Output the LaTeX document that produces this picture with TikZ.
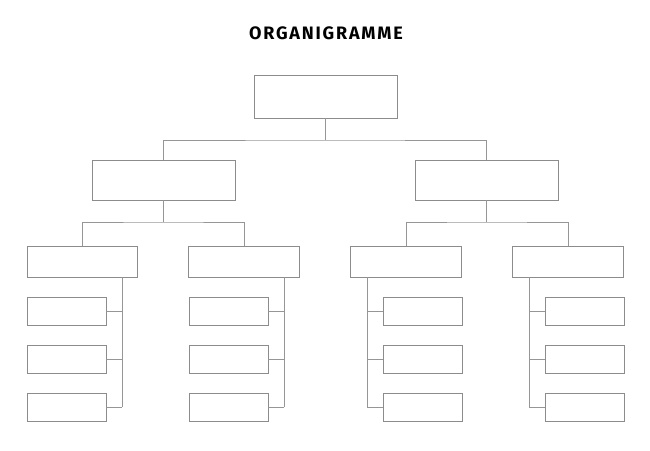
\documentclass[tikz,border=0pt]{standalone}
\usepackage{fontspec}
\newfontfamily\titlefont[LetterSpace=10]{Fira Sans}
\tikzset{every picture/.style={line width=0.75pt}}
\tikzset{orgbox/.style={draw={rgb, 255:red, 140; green, 140; blue, 140 }, fill=white, inner sep=0pt},
  orgline/.style={draw={rgb, 255:red, 150; green, 150; blue, 150 }}}

\begin{document}
\begin{tikzpicture}[x=1pt,y=1pt,yscale=-1,xscale=1]
\useasboundingbox (0,0) rectangle (650,450);

% Title
\node (title) at (326,33) {\titlefont\bfseries\fontsize{18}{20}\selectfont ORGANIGRAMME};

% Top box
\node [orgbox, minimum width=143, minimum height=43] (top) at (325.5,96.5) {};
% Middle boxes
\node [orgbox, minimum width=143, minimum height=40] (midL) at (163.5,180) {};
\node [orgbox, minimum width=143, minimum height=40] (midR) at (486.5,180) {};
\coordinate (splitT) at (325.5,140);
\draw [orgline] (top.south) -- (splitT);
\draw [orgline] (midL.north) |- (splitT) -| (midR.north);

% Team boxes and sub boxes
\foreach \i/\cx/\lx in {1/82.5/122, 2/244/284, 3/406/367, 4/568/529} {
  \node [orgbox, minimum width=110.5, minimum height=31] (team\i) at (\cx,261.5) {};
  \foreach \j/\cy in {1/311, 2/359, 3/407} {
    \pgfmathsetmacro{\sx}{ifthenelse(\i<3, \lx-55.5, \lx+55.5)}
    \node [orgbox, minimum width=79, minimum height=28] (sub\i\j) at (\sx,\cy) {};
    \coordinate (tick\i\j) at (\lx,\cy);
  }
  \coordinate (drop\i) at (\lx,277);
  \draw [orgline] (drop\i) -- (tick\i3);
  \foreach \j in {1,2,3} {
    \ifnum\i<3 \draw [orgline] (sub\i\j.east) -- (tick\i\j);
    \else \draw [orgline] (sub\i\j.west) -- (tick\i\j); \fi
  }
}

% Connectors to team boxes
\coordinate (splitL) at (163.5,222);
\coordinate (splitR) at (486.5,222);
\draw [orgline] (midL.south) -- (splitL);
\draw [orgline] (team1.north) |- (splitL) -| (team2.north);
\draw [orgline] (midR.south) -- (splitR);
\draw [orgline] (team3.north) |- (splitR) -| (team4.north);

\end{tikzpicture}
\end{document}
